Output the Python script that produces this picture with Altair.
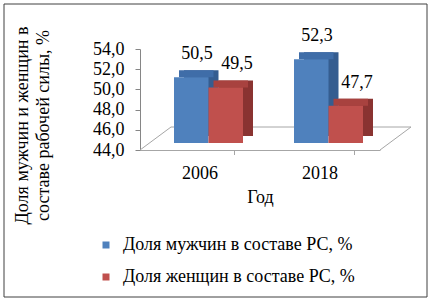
import altair as alt
import pandas as pd

years = ["2006", "2018"]
series = ["Доля мужчин в составе РС, %", "Доля женщин в составе РС, %"]
men = [50.5, 52.3]
women = [49.5, 47.7]
y_ticks = [44, 46, 48, 50, 52, 54]
y_title = ["Доля мужчин и женщин в", "составе рабочей силы, %"]
x_title = "Год"

front_colors = ["#4f81bd", "#c0504d"]
side_colors = ["#355d90", "#8a3331"]
top_colors = ["#3f6da8", "#a8423f"]

FONT = "Liberation Serif"
FS = 18

rows = []
for i, yr in enumerate(years):
    for s, vals in zip(series, [men, women]):
        v = vals[i]
        rows.append({"year": yr, "series": s, "value": v,
                     "label": f"{v:.1f}".replace(".", ",")})
df = pd.DataFrame(rows)
years_df = pd.DataFrame({"year": years})
one = pd.DataFrame({"a": [0]})

W, H = 240, 101
BW = 69                    # group width inside band
DX, DY = 8.5, -7           # bar plane shift
DEPTH_X, DEPTH_Y = 10, -7  # 3D depth
FLOOR_X, FLOOR_Y = 31, -23

x_scale = alt.Scale(domain=years, paddingInner=0.425, paddingOuter=0.2125)
x_axis = alt.Axis(title=x_title, labelAngle=0, ticks=False,
                  domainColor="#a6a6a6", labelFont=FONT, labelFontSize=FS,
                  labelColor="black", labelPadding=14,
                  titleFont=FONT, titleFontSize=FS, titleFontWeight="normal",
                  titleColor="black", titlePadding=6)
x_enc = alt.X("year:N", sort=years, scale=x_scale, axis=x_axis)


def xo(shift, width=BW):
    return alt.XOffset("series:N", sort=series,
                       scale=alt.Scale(domain=series, range=[shift, shift + width],
                                       paddingInner=0, paddingOuter=0))


y_scale = alt.Scale(domain=[44, 54], zero=False, nice=False)
y_axis = alt.Axis(values=y_ticks, grid=False, title=y_title,
                  labelExpr="replace(format(datum.value, '.1f'), '.', ',')",
                  labelOverlap=False, labelBound=False, labelFlush=False,
                  domainColor="#868686", tickColor="#868686", tickSize=5,
                  labelFont=FONT, labelFontSize=FS, labelColor="black",
                  labelPadding=11,
                  titleFont=FONT, titleFontSize=FS, titleFontWeight="normal",
                  titleColor="black", titleAngle=-90, titleAlign="center",
                  titleBaseline="top", titleLineHeight=21,
                  titleX=-127, titleY=76)
y_enc = alt.Y("value:Q", scale=y_scale, axis=y_axis)


def y44():
    return alt.YDatum(44, scale=y_scale, axis=y_axis)


def series_color(rng, legend=None):
    return alt.Color("series:N", sort=series,
                     scale=alt.Scale(domain=series, range=rng), legend=legend)


frame = alt.Chart(one).mark_rect(filled=False, stroke="#404040", strokeWidth=1).encode(
    x=alt.value(-136), x2=alt.value(287), y=alt.value(-45), y2=alt.value(248))

floor_back = alt.Chart(one).mark_rule(color="#a6a6a6", yOffset=FLOOR_Y).encode(
    x=alt.value(FLOOR_X), x2=alt.value(W + FLOOR_X), y=y44())
floor_left = alt.Chart(one).mark_rule(color="#a6a6a6", y2Offset=FLOOR_Y).encode(
    x=alt.value(0), x2=alt.value(FLOOR_X), y=y44(), y2=alt.datum(44))
floor_right = alt.Chart(one).mark_rule(color="#a6a6a6", y2Offset=FLOOR_Y).encode(
    x=alt.value(W), x2=alt.value(W + FLOOR_X), y=y44(), y2=alt.datum(44))
xticks = alt.Chart(years_df).mark_rule(color="#a6a6a6", y2Offset=5).encode(
    x=alt.X("year:N", sort=years, scale=x_scale, axis=x_axis, bandPosition=1),
    y=y44(), y2=alt.datum(44))

side = alt.Chart(df).mark_bar(yOffset=DY + DEPTH_Y, y2Offset=DY + DEPTH_Y).encode(
    x=x_enc, xOffset=xo(DX + DEPTH_X), y=y_enc, y2=alt.datum(44),
    color=series_color(side_colors))

top = alt.Chart(df).mark_bar(yOffset=DY + DEPTH_Y, y2Offset=DY).encode(
    x=x_enc, xOffset=xo(DX + DEPTH_X / 2), y=y_enc, y2=alt.Y2("value:Q"),
    color=series_color(top_colors))

front = alt.Chart(df).mark_bar(yOffset=DY, y2Offset=DY).encode(
    x=x_enc, xOffset=xo(DX), y=y_enc, y2=alt.datum(44),
    color=series_color(front_colors,
                       alt.Legend(title=None, orient="none", legendX=-43, legendY=187,
                                  symbolType="square", symbolSize=49,
                                  symbolStrokeWidth=0, labelFont=FONT,
                                  labelFontSize=FS, labelColor="black",
                                  labelOffset=8, rowPadding=14, padding=0,
                                  labelLimit=400)))

labels = alt.Chart(df).mark_text(font=FONT, fontSize=FS, color="black",
                                 dy=-30, baseline="middle").encode(
    x=x_enc,
    xOffset=alt.XOffset("series:N", sort=series,
                        scale=alt.Scale(type="point", domain=series,
                                        range=[31.5, 71.5], padding=0)),
    y=y_enc, text="label:N")

chart = alt.layer(frame, floor_back, floor_left, floor_right, xticks, side, top,
                  front, labels).resolve_scale(
    color="independent", xOffset="independent").properties(
    width=W, height=H,
    autosize=alt.AutoSizeParams(type="none"),
    padding={"left": 140, "top": 49, "right": 51, "bottom": 151},
    background="white",
).configure_view(stroke=None)

chart.save("out.html", embed_options={"renderer": "svg", "actions": False})
